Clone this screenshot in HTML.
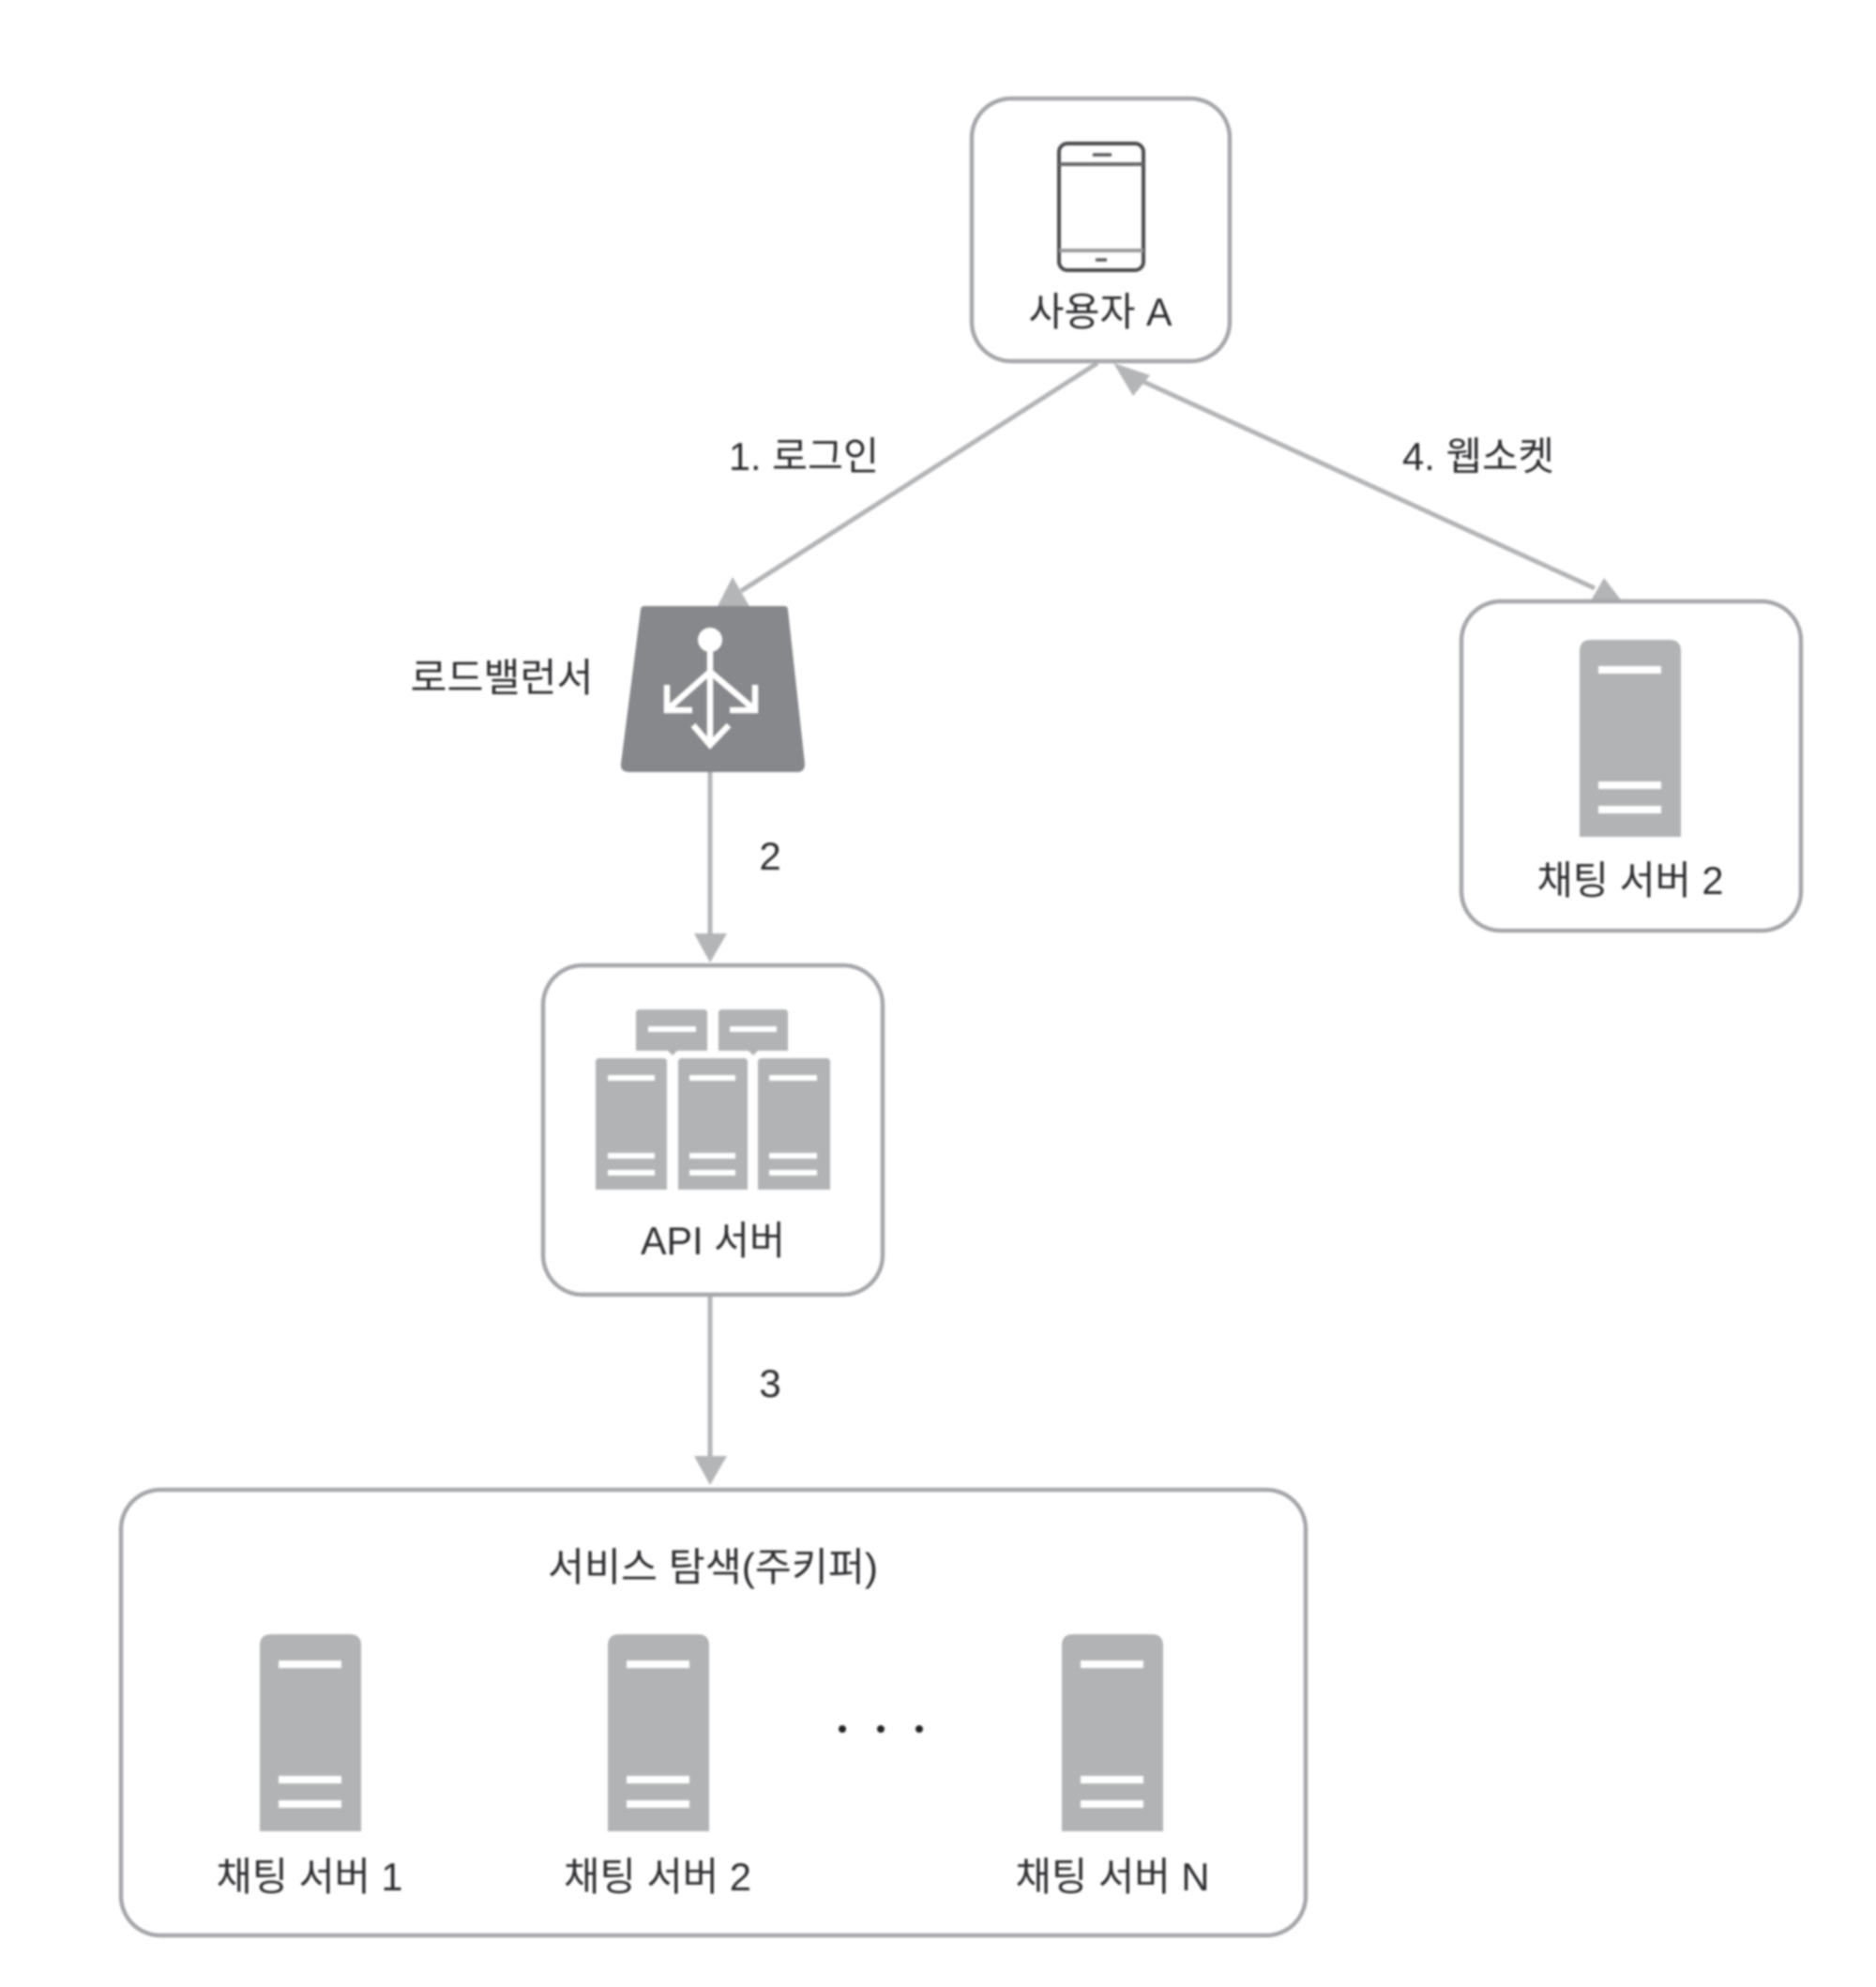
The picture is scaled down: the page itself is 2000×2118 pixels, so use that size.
<!DOCTYPE html>
<html lang="ko">
<head>
<meta charset="utf-8">
<title>채팅 서버 연결 다이어그램</title>
<style>
html,body{margin:0;padding:0;background:#fff;width:2000px;height:2118px;overflow:hidden}
svg{display:block;filter:blur(1px)}
text{font-family:"Liberation Sans","Noto Sans CJK KR",sans-serif;font-size:42px;fill:#2e2e31;text-anchor:middle}
.box{fill:#fff;stroke:#a6a7aa;stroke-width:4.5}
.conn{stroke:#b4b5b7;stroke-width:5;fill:none}
.head{fill:#b4b5b7}
.srv{fill:#b1b3b5}
.bar{fill:#fff}
</style>
</head>
<body>
<svg width="2000" height="2118" viewBox="0 0 2000 2118" xmlns="http://www.w3.org/2000/svg">
<defs>
<g id="server">
<path d="M0 210V12Q0 0 12 0H96Q108 0 108 12V210Z" class="srv"/>
<rect x="20" y="28" width="67" height="8" class="bar"/>
<rect x="20" y="151" width="67" height="8" class="bar"/>
<rect x="20" y="177" width="67" height="8" class="bar"/>
</g>
</defs>

<!-- connectors -->
<line x1="1170" y1="387" x2="790" y2="630" class="conn"/>
<polygon points="781,615 763,650 801,650" class="head"/>
<line x1="1215" y1="405" x2="1700" y2="627" class="conn"/>
<polygon points="1187,387 1226,400 1208,422" class="head"/>
<polygon points="1710,616 1730,642 1695,642" class="head"/>
<line x1="757" y1="823" x2="757" y2="1000" class="conn"/>
<polygon points="740,995 775,995 757,1026" class="head"/>
<line x1="757" y1="1382" x2="757" y2="1560" class="conn"/>
<polygon points="740,1552 775,1552 757,1583" class="head"/>

<!-- user -->
<rect x="1036" y="105" width="275" height="280" rx="42" class="box"/>
<rect x="1129" y="153" width="90" height="135" rx="9" fill="#fff" stroke="#4b4b4e" stroke-width="4"/>
<line x1="1129" y1="175" x2="1219" y2="175" stroke="#68686b" stroke-width="4"/>
<line x1="1129" y1="267" x2="1219" y2="267" stroke="#9a9a9d" stroke-width="4"/>
<line x1="1165" y1="165" x2="1185" y2="165" stroke="#5a5a5c" stroke-width="3.5"/>
<line x1="1168" y1="277" x2="1180" y2="277" stroke="#5a5a5c" stroke-width="3.5"/>
<text x="1173" y="347" textLength="153" lengthAdjust="spacingAndGlyphs">사용자 A</text>

<!-- labels on connectors -->
<text x="857" y="501" textLength="160" lengthAdjust="spacingAndGlyphs">1. 로그인</text>
<text x="1576" y="501" textLength="162" lengthAdjust="spacingAndGlyphs">4. 웹소켓</text>
<text x="821" y="927">2</text>
<text x="821" y="1489">3</text>

<!-- load balancer -->
<text x="535" y="737" textLength="195" lengthAdjust="spacingAndGlyphs">로드밸런서</text>
<path d="M687 646H836Q840 646 840 650L858 814Q858 823 850 823H671Q661 823 662 814L683 650Q683 646 687 646Z" fill="#87888c"/>
<g fill="none" stroke="#fff" stroke-width="6.5">
<circle cx="757" cy="682" r="13" fill="#fff" stroke="none"/>
<line x1="757" y1="690" x2="757" y2="793"/>
<line x1="757" y1="716" x2="712" y2="756"/>
<line x1="757" y1="716" x2="804" y2="756"/>
<polyline points="711,730 711,757 738,757"/>
<polyline points="805,730 805,757 778,757"/>
<polyline points="739,773 757,794 777,773"/>
</g>

<!-- API server -->
<rect x="579" y="1029" width="362" height="351" rx="42" class="box"/>
<g class="srv">
<path d="M678 1120V1080Q678 1076 682 1076H750Q754 1076 754 1080V1120H722L717 1125L712 1120Z"/>
<path d="M766 1120V1080Q766 1076 770 1076H836Q840 1076 840 1080V1120H808L803 1125L798 1120Z"/>
<path d="M635 1268V1132Q635 1128 639 1128H707Q711 1128 711 1132V1268Z"/>
<path d="M723 1268V1132Q723 1128 727 1128H793Q797 1128 797 1132V1268Z"/>
<path d="M808 1268V1132Q808 1128 812 1128H881Q885 1128 885 1132V1268Z"/>
</g>
<g class="bar">
<rect x="691" y="1094" width="51" height="6"/>
<rect x="778" y="1094" width="50" height="6"/>
<rect x="648" y="1146" width="50" height="6"/><rect x="648" y="1229" width="50" height="6"/><rect x="648" y="1247" width="50" height="6"/>
<rect x="735" y="1146" width="49" height="6"/><rect x="735" y="1229" width="49" height="6"/><rect x="735" y="1247" width="49" height="6"/>
<rect x="820" y="1146" width="51" height="6"/><rect x="820" y="1229" width="51" height="6"/><rect x="820" y="1247" width="51" height="6"/>
</g>
<text x="760" y="1337" textLength="154" lengthAdjust="spacingAndGlyphs">API 서버</text>

<!-- chat server 2 (top right) -->
<rect x="1558" y="641" width="362" height="351" rx="42" class="box"/>
<use href="#server" x="1684" y="682"/>
<text x="1738" y="953" textLength="199" lengthAdjust="spacingAndGlyphs">채팅 서버 2</text>

<!-- service discovery -->
<rect x="129" y="1588" width="1263" height="475" rx="42" class="box"/>
<text x="760" y="1685" textLength="352" lengthAdjust="spacingAndGlyphs">서비스 탐색(주키퍼)</text>
<use href="#server" x="277" y="1742"/>
<use href="#server" x="648" y="1742"/>
<use href="#server" x="1132" y="1742"/>
<circle cx="898" cy="1843" r="4" fill="#222"/>
<circle cx="939" cy="1843" r="4" fill="#222"/>
<circle cx="980" cy="1843" r="4" fill="#222"/>
<text x="330" y="2015" textLength="199" lengthAdjust="spacingAndGlyphs">채팅 서버 1</text>
<text x="701" y="2015" textLength="200" lengthAdjust="spacingAndGlyphs">채팅 서버 2</text>
<text x="1186" y="2015" textLength="207" lengthAdjust="spacingAndGlyphs">채팅 서버 N</text>
</svg>
</body>
</html>
